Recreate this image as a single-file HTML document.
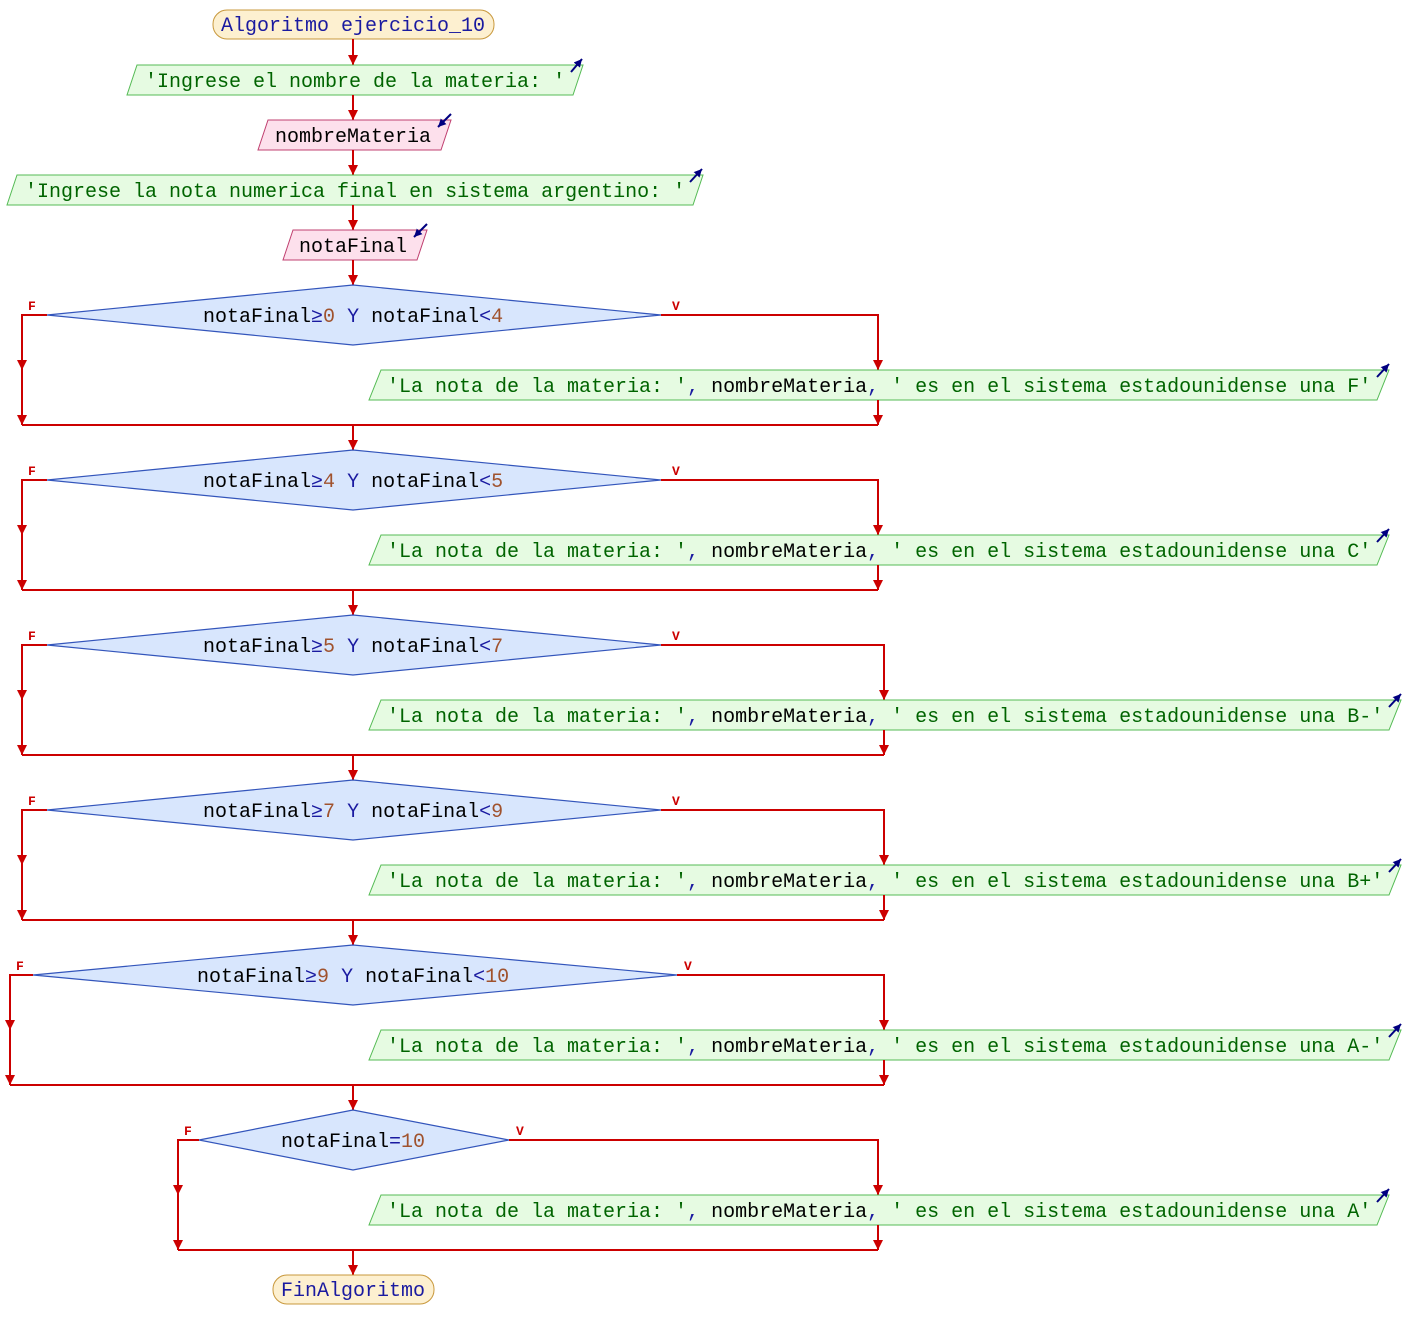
<!DOCTYPE html>
<html><head><meta charset="utf-8"><style>
html,body{margin:0;padding:0;background:#fff;width:1404px;height:1340px;overflow:hidden}
text{font-family:"Liberation Mono","DejaVu Sans Mono",monospace;font-size:20px}
.s{fill:#006400}.v{fill:#000}.o{fill:#1a1aa0}.n{fill:#a0522d}.k{fill:#1a1aa0}
.fl{stroke:#cc0000;stroke-width:2;fill:none}
.lab{fill:#cc0000;font-size:13px;font-weight:bold}
.out{fill:#e6fbe2;stroke:#55bb55;stroke-width:1}
.inp{fill:#fde0ec;stroke:#c04070;stroke-width:1}
.dec{fill:#d8e6fd;stroke:#3355bb;stroke-width:1.2}
.ter{fill:#fdf0d0;stroke:#c8983c;stroke-width:1}
.ic{stroke:#000080;stroke-width:2;fill:none}
</style></head><body>
<svg width="1404" height="1340" xmlns="http://www.w3.org/2000/svg">
<defs>
<marker id="a" viewBox="0 0 10 10" refX="10" refY="5" markerWidth="5" markerHeight="5" orient="auto"><path d="M0,0L10,5L0,10z" fill="#cc0000"/></marker>
<marker id="b" viewBox="0 0 10 10" refX="10" refY="5" markerWidth="4" markerHeight="4" orient="auto"><path d="M0,0L10,5L0,10z" fill="#000080"/></marker>
</defs>

<!-- start -->
<rect class="ter" x="213" y="10" width="281" height="29" rx="14"/>
<text x="353" y="31" text-anchor="middle" class="k">Algoritmo ejercicio_10</text>
<line class="fl" x1="353" y1="39" x2="353" y2="65" marker-end="url(#a)"/>

<polygon class="out" points="137,65 583,65 573,95 127,95"/>
<text x="145" y="87" class="s">'Ingrese el nombre de la materia: '</text>
<line class="ic" x1="571" y1="72" x2="582" y2="59" marker-end="url(#b)"/>
<line class="fl" x1="353" y1="95" x2="353" y2="120" marker-end="url(#a)"/>

<polygon class="inp" points="268,120 451,120 441,150 258,150"/>
<text x="353" y="142" text-anchor="middle" class="v">nombreMateria</text>
<line class="ic" x1="451" y1="114" x2="438" y2="127" marker-end="url(#b)"/>
<line class="fl" x1="353" y1="150" x2="353" y2="175" marker-end="url(#a)"/>

<polygon class="out" points="17,175 703,175 693,205 7,205"/>
<text x="25" y="197" class="s">'Ingrese la nota numerica final en sistema argentino: '</text>
<line class="ic" x1="690" y1="182" x2="702" y2="169" marker-end="url(#b)"/>
<line class="fl" x1="353" y1="205" x2="353" y2="230" marker-end="url(#a)"/>

<polygon class="inp" points="293,230 427,230 417,260 283,260"/>
<text x="353" y="252" text-anchor="middle" class="v">notaFinal</text>
<line class="ic" x1="427" y1="224" x2="414" y2="237" marker-end="url(#b)"/>
<line class="fl" x1="353" y1="260" x2="353" y2="285" marker-end="url(#a)"/>

<!-- block 1 -->
<polygon class="dec" points="353,285 661,315 353,345 47,315"/>
<text x="203" y="322"><tspan class="v">notaFinal</tspan><tspan class="o">≥</tspan><tspan class="n">0</tspan><tspan class="k"> Y </tspan><tspan class="v">notaFinal</tspan><tspan class="o">&lt;</tspan><tspan class="n">4</tspan></text>
<text x="28" y="310" class="lab">F</text><text x="672" y="310" class="lab">V</text>
<polyline class="fl" points="47,315 22,315 22,425"/>
<line class="fl" x1="22" y1="315" x2="22" y2="370" marker-end="url(#a)"/>
<line class="fl" x1="22" y1="380" x2="22" y2="425" marker-end="url(#a)"/>
<polyline class="fl" points="661,315 878,315 878,370" marker-end="url(#a)"/>
<polygon class="out" points="381,370 1389,370 1377,400 369,400"/>
<text x="387" y="392"><tspan class="s">'La nota de la materia: '</tspan><tspan class="o">, </tspan><tspan class="v">nombreMateria</tspan><tspan class="o">, </tspan><tspan class="s">' es en el sistema estadounidense una F'</tspan></text>
<line class="ic" x1="1377" y1="377" x2="1389" y2="364" marker-end="url(#b)"/>
<line class="fl" x1="878" y1="400" x2="878" y2="425" marker-end="url(#a)"/>
<line class="fl" x1="22" y1="425" x2="878" y2="425"/>
<line class="fl" x1="353" y1="425" x2="353" y2="450" marker-end="url(#a)"/>

<!-- block 2 -->
<polygon class="dec" points="353,450 661,480 353,510 47,480"/>
<text x="203" y="487"><tspan class="v">notaFinal</tspan><tspan class="o">≥</tspan><tspan class="n">4</tspan><tspan class="k"> Y </tspan><tspan class="v">notaFinal</tspan><tspan class="o">&lt;</tspan><tspan class="n">5</tspan></text>
<text x="28" y="475" class="lab">F</text><text x="672" y="475" class="lab">V</text>
<polyline class="fl" points="47,480 22,480 22,590"/>
<line class="fl" x1="22" y1="480" x2="22" y2="535" marker-end="url(#a)"/>
<line class="fl" x1="22" y1="545" x2="22" y2="590" marker-end="url(#a)"/>
<polyline class="fl" points="661,480 878,480 878,535" marker-end="url(#a)"/>
<polygon class="out" points="381,535 1389,535 1377,565 369,565"/>
<text x="387" y="557"><tspan class="s">'La nota de la materia: '</tspan><tspan class="o">, </tspan><tspan class="v">nombreMateria</tspan><tspan class="o">, </tspan><tspan class="s">' es en el sistema estadounidense una C'</tspan></text>
<line class="ic" x1="1377" y1="542" x2="1389" y2="529" marker-end="url(#b)"/>
<line class="fl" x1="878" y1="565" x2="878" y2="590" marker-end="url(#a)"/>
<line class="fl" x1="22" y1="590" x2="878" y2="590"/>
<line class="fl" x1="353" y1="590" x2="353" y2="615" marker-end="url(#a)"/>

<!-- block 3 -->
<polygon class="dec" points="353,615 661,645 353,675 47,645"/>
<text x="203" y="652"><tspan class="v">notaFinal</tspan><tspan class="o">≥</tspan><tspan class="n">5</tspan><tspan class="k"> Y </tspan><tspan class="v">notaFinal</tspan><tspan class="o">&lt;</tspan><tspan class="n">7</tspan></text>
<text x="28" y="640" class="lab">F</text><text x="672" y="640" class="lab">V</text>
<polyline class="fl" points="47,645 22,645 22,755"/>
<line class="fl" x1="22" y1="645" x2="22" y2="700" marker-end="url(#a)"/>
<line class="fl" x1="22" y1="710" x2="22" y2="755" marker-end="url(#a)"/>
<polyline class="fl" points="661,645 884,645 884,700" marker-end="url(#a)"/>
<polygon class="out" points="381,700 1401,700 1389,730 369,730"/>
<text x="387" y="722"><tspan class="s">'La nota de la materia: '</tspan><tspan class="o">, </tspan><tspan class="v">nombreMateria</tspan><tspan class="o">, </tspan><tspan class="s">' es en el sistema estadounidense una B-'</tspan></text>
<line class="ic" x1="1389" y1="707" x2="1401" y2="694" marker-end="url(#b)"/>
<line class="fl" x1="884" y1="730" x2="884" y2="755" marker-end="url(#a)"/>
<line class="fl" x1="22" y1="755" x2="884" y2="755"/>
<line class="fl" x1="353" y1="755" x2="353" y2="780" marker-end="url(#a)"/>

<!-- block 4 -->
<polygon class="dec" points="353,780 661,810 353,840 47,810"/>
<text x="203" y="817"><tspan class="v">notaFinal</tspan><tspan class="o">≥</tspan><tspan class="n">7</tspan><tspan class="k"> Y </tspan><tspan class="v">notaFinal</tspan><tspan class="o">&lt;</tspan><tspan class="n">9</tspan></text>
<text x="28" y="805" class="lab">F</text><text x="672" y="805" class="lab">V</text>
<polyline class="fl" points="47,810 22,810 22,920"/>
<line class="fl" x1="22" y1="810" x2="22" y2="865" marker-end="url(#a)"/>
<line class="fl" x1="22" y1="875" x2="22" y2="920" marker-end="url(#a)"/>
<polyline class="fl" points="661,810 884,810 884,865" marker-end="url(#a)"/>
<polygon class="out" points="381,865 1401,865 1389,895 369,895"/>
<text x="387" y="887"><tspan class="s">'La nota de la materia: '</tspan><tspan class="o">, </tspan><tspan class="v">nombreMateria</tspan><tspan class="o">, </tspan><tspan class="s">' es en el sistema estadounidense una B+'</tspan></text>
<line class="ic" x1="1389" y1="872" x2="1401" y2="859" marker-end="url(#b)"/>
<line class="fl" x1="884" y1="895" x2="884" y2="920" marker-end="url(#a)"/>
<line class="fl" x1="22" y1="920" x2="884" y2="920"/>
<line class="fl" x1="353" y1="920" x2="353" y2="945" marker-end="url(#a)"/>

<!-- block 5 -->
<polygon class="dec" points="353,945 677,975 353,1005 33,975"/>
<text x="197" y="982"><tspan class="v">notaFinal</tspan><tspan class="o">≥</tspan><tspan class="n">9</tspan><tspan class="k"> Y </tspan><tspan class="v">notaFinal</tspan><tspan class="o">&lt;</tspan><tspan class="n">10</tspan></text>
<text x="16" y="970" class="lab">F</text><text x="684" y="970" class="lab">V</text>
<polyline class="fl" points="33,975 10,975 10,1085"/>
<line class="fl" x1="10" y1="975" x2="10" y2="1030" marker-end="url(#a)"/>
<line class="fl" x1="10" y1="1040" x2="10" y2="1085" marker-end="url(#a)"/>
<polyline class="fl" points="677,975 884,975 884,1030" marker-end="url(#a)"/>
<polygon class="out" points="381,1030 1401,1030 1389,1060 369,1060"/>
<text x="387" y="1052"><tspan class="s">'La nota de la materia: '</tspan><tspan class="o">, </tspan><tspan class="v">nombreMateria</tspan><tspan class="o">, </tspan><tspan class="s">' es en el sistema estadounidense una A-'</tspan></text>
<line class="ic" x1="1389" y1="1037" x2="1401" y2="1024" marker-end="url(#b)"/>
<line class="fl" x1="884" y1="1060" x2="884" y2="1085" marker-end="url(#a)"/>
<line class="fl" x1="10" y1="1085" x2="884" y2="1085"/>
<line class="fl" x1="353" y1="1085" x2="353" y2="1110" marker-end="url(#a)"/>

<!-- block 6 -->
<polygon class="dec" points="353,1110 509,1140 353,1170 199,1140"/>
<text x="281" y="1147"><tspan class="v">notaFinal</tspan><tspan class="o">=</tspan><tspan class="n">10</tspan></text>
<text x="184" y="1135" class="lab">F</text><text x="516" y="1135" class="lab">V</text>
<polyline class="fl" points="199,1140 178,1140 178,1250"/>
<line class="fl" x1="178" y1="1140" x2="178" y2="1195" marker-end="url(#a)"/>
<line class="fl" x1="178" y1="1205" x2="178" y2="1250" marker-end="url(#a)"/>
<polyline class="fl" points="509,1140 878,1140 878,1195" marker-end="url(#a)"/>
<polygon class="out" points="381,1195 1389,1195 1377,1225 369,1225"/>
<text x="387" y="1217"><tspan class="s">'La nota de la materia: '</tspan><tspan class="o">, </tspan><tspan class="v">nombreMateria</tspan><tspan class="o">, </tspan><tspan class="s">' es en el sistema estadounidense una A'</tspan></text>
<line class="ic" x1="1377" y1="1202" x2="1389" y2="1189" marker-end="url(#b)"/>
<line class="fl" x1="878" y1="1225" x2="878" y2="1250" marker-end="url(#a)"/>
<line class="fl" x1="178" y1="1250" x2="878" y2="1250"/>
<line class="fl" x1="353" y1="1250" x2="353" y2="1275" marker-end="url(#a)"/>

<rect class="ter" x="273" y="1275" width="161" height="29" rx="14"/>
<text x="353" y="1296" text-anchor="middle" class="k">FinAlgoritmo</text>
</svg>
</body></html>
